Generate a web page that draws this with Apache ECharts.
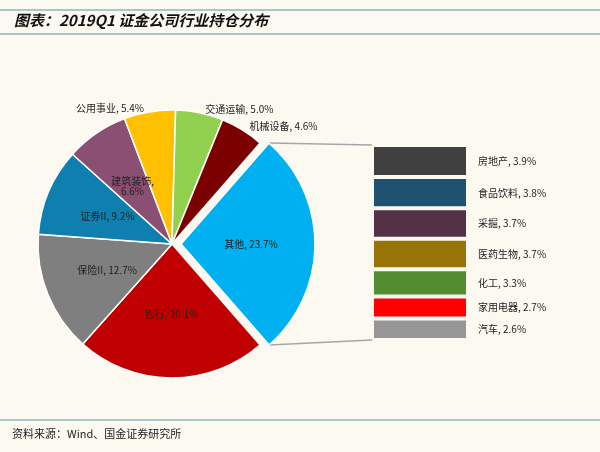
<!DOCTYPE html>
<html><head><meta charset="utf-8">
<script src="https://cdn.jsdelivr.net/npm/echarts@6/dist/echarts.min.js"></script>
<style>html,body{margin:0;background:#fcf9f1}#c{width:600px;height:452px}</style>
</head><body><div id="c"></div>
<script>
var pieNames = ['其他', '银行', '保险II', '证券II', '建筑装饰', '公用事业', '交通运输', '机械设备'];
var pieValues = [23.7, 20.1, 12.7, 9.2, 6.6, 5.4, 5.0, 4.6];
var pieColors = ['#00b0f0', '#c00000', '#7f7f7f', '#0e7fae', '#8c4f74', '#ffc000', '#92d050', '#7b0000'];
var barNames = ['房地产', '食品饮料', '采掘', '医药生物', '化工', '家用电器', '汽车'];
var barValues = [3.9, 3.8, 3.7, 3.7, 3.3, 2.7, 2.6];
var barColors = ['#404040', '#1f5270', '#553148', '#987307', '#538c31', '#ff0000', '#969696'];

var cx = 172, cy = 244, r = 134, off = 9;
var total = pieValues.reduce(function (a, b) { return a + b; }, 0);
var half = pieValues[0] / total * 180;
var bx = 372, btop = 145, bh = 195, bw = 96;
var ex = cx + off + r * Math.cos(half * Math.PI / 180);
var ey = r * Math.sin(half * Math.PI / 180);
var bg = '#fcf9f1';
var fnt = '"Noto Sans CJK SC"';

var pieData = pieNames.map(function (n, i) {
  var d = { name: n, value: pieValues[i], itemStyle: { color: pieColors[i] } };
  if (i === 0) d.selected = true;
  if (i >= 5) d.label = { position: 'outside', distance: 4 };
  if (i === 1 || i === 4) d.label = { color: '#222' };
  return d;
});

var barSeries = barNames.map(function (n, i) {
  return {
    type: 'bar', stack: 's', name: n, data: [barValues[i]], barWidth: bw,
    itemStyle: { color: barColors[i], borderColor: bg, borderWidth: 2 },
    label: { show: true, position: 'right', distance: 10, color: '#222', fontSize: 10, fontFamily: fnt,
      formatter: n + ', ' + barValues[i].toFixed(1) + '%' }
  };
});

var chart = echarts.init(document.getElementById('c'));
chart.setOption({
  backgroundColor: bg,
  animation: false,
  grid: { left: bx, top: btop, width: bw, height: bh },
  xAxis: { type: 'category', data: [''], show: false },
  yAxis: { type: 'value', min: 0, max: barValues.reduce(function (a, b) { return a + b; }, 0), inverse: true, show: false },
  graphic: [
    { type: 'line', shape: { x1: 0, y1: 10, x2: 600, y2: 10 }, style: { stroke: '#8fb4bb', lineWidth: 1.5 } },
    { type: 'line', shape: { x1: 0, y1: 34, x2: 600, y2: 34 }, style: { stroke: '#8fb4bb', lineWidth: 1.5 } },
    { type: 'text', left: 14, top: 13, style: { text: '图表：2019Q1 证金公司行业持仓分布', font: 'italic bold 15px ' + fnt, fill: '#111' } },
    { type: 'line', shape: { x1: 0, y1: 420, x2: 600, y2: 420 }, style: { stroke: '#8fb4bb', lineWidth: 1.5 } },
    { type: 'text', left: 12, top: 428, style: { text: '资料来源：Wind、国金证券研究所', font: '11px ' + fnt, fill: '#222' } },
    { type: 'line', shape: { x1: ex, y1: cy - ey, x2: bx, y2: btop }, style: { stroke: '#a6a6a6', lineWidth: 1.5 } },
    { type: 'line', shape: { x1: ex, y1: cy + ey, x2: bx, y2: btop + bh }, style: { stroke: '#a6a6a6', lineWidth: 1.5 } }
  ],
  series: [{
    type: 'pie', center: [cx, cy], radius: r, startAngle: half, clockwise: true,
    selectedMode: 'single', selectedOffset: off,
    itemStyle: { borderColor: '#fff', borderWidth: 1.5 },
    label: { position: 'inside', fontSize: 10, fontFamily: fnt, color: '#222',
      formatter: function (p) { return p.name === '建筑装饰' ? p.name + ',\n' + p.value.toFixed(1) + '%' : p.name + ', ' + p.value.toFixed(1) + '%'; } },
    labelLine: { show: false, length: 4, length2: 0 },
    data: pieData
  }].concat(barSeries)
});
</script></body></html>
